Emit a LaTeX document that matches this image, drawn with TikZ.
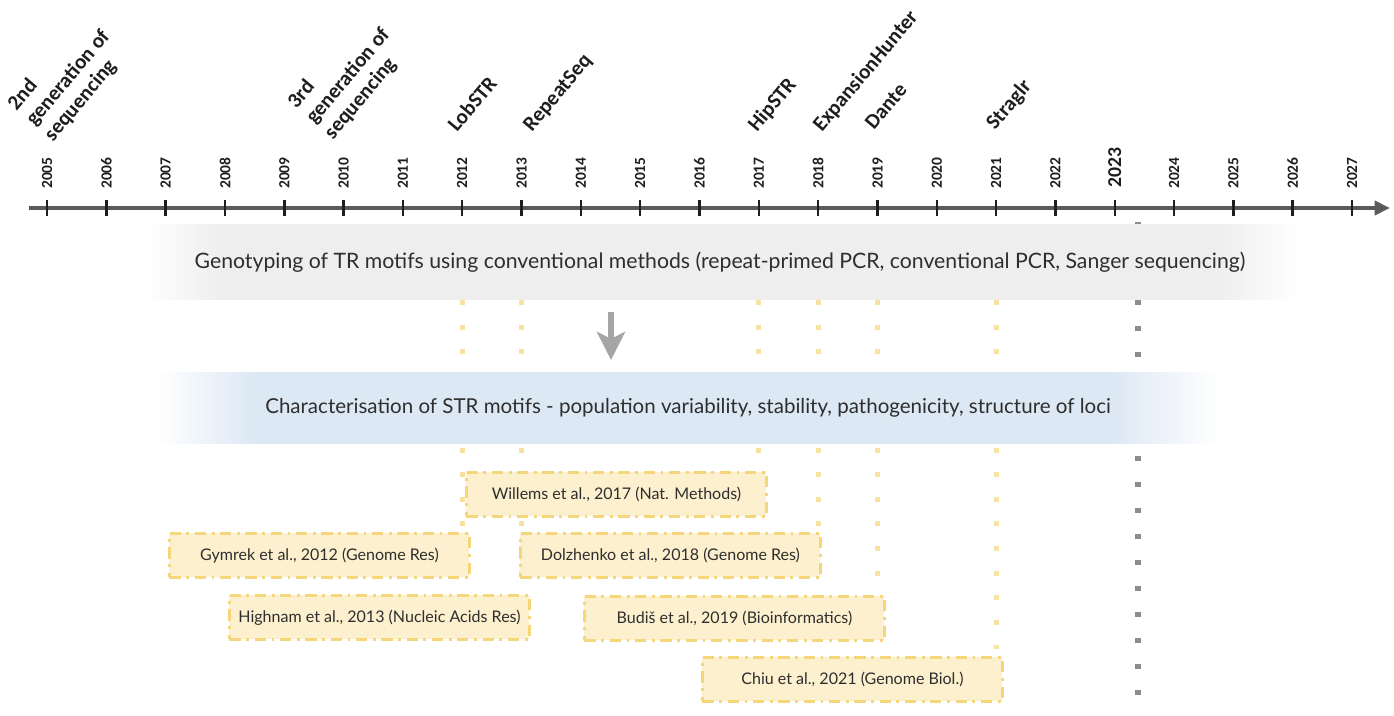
\documentclass[tikz,border=0pt]{standalone}
\usepackage{fontspec}
\usetikzlibrary{arrows.meta}
\newfontfamily\labelfont{Carlito}
\newfontfamily\bandfont{Lato}

\definecolor{axisgray}{HTML}{5A5A5A}
\definecolor{tickblack}{HTML}{1E1E1E}
\definecolor{textdark}{HTML}{2E2E2E}
\definecolor{bandgray}{HTML}{EEEEEE}
\definecolor{bandblue}{HTML}{DDE8F5}
\definecolor{boxfill}{HTML}{FDF0CE}
\definecolor{boxline}{HTML}{F5D67A}
\definecolor{tooldot}{HTML}{F7E2A0}
\definecolor{endgray}{HTML}{8C8C8C}
\definecolor{arrowgray}{HTML}{A5A5A5}

% shadings are shown between 25bp and 75bp
\pgfdeclarehorizontalshading{grayband}{100bp}{color(0bp)=(white); color(25bp)=(white); color(28.5bp)=(bandgray); color(71.5bp)=(bandgray); color(75bp)=(white); color(100bp)=(white)}
\pgfdeclarehorizontalshading{blueband}{100bp}{color(0bp)=(white); color(25bp)=(white); color(29.5bp)=(bandblue); color(70bp)=(bandblue); color(75bp)=(white); color(100bp)=(white)}

\tikzset{
  yearlabel/.style={rotate=90, anchor=west, inner sep=0pt, text=tickblack,
    font=\labelfont\bfseries\fontsize{11}{13}\selectfont},
  toollabel/.style={rotate=50, inner sep=0pt, text=tickblack,
    font=\labelfont\bfseries\fontsize{15}{17}\selectfont},
  tickmark/.style={draw=tickblack, line width=1.8pt},
  band/.style={shade, inner sep=0pt, text=textdark,
    font=\bandfont\fontsize{15.1}{18}\selectfont},
  paperbox/.style={draw=boxline, fill=boxfill, line width=2pt,
    dash pattern=on 8pt off 4pt on 2pt off 4pt, anchor=north west,
    minimum width=7.5cm, minimum height=1.1cm, inner sep=0pt, text=textdark,
    font=\bandfont\fontsize{11.4}{13}\selectfont},
  tooldots/.style={draw=tooldot, line width=3.5pt, dash pattern=on 3.5pt off 14pt},
  enddots/.style={draw=endgray, line width=3.6pt, dash pattern=on 3.6pt off 14.9pt},
}

\begin{document}
\begin{tikzpicture}[x=0.025cm, y=-0.025cm]
  \useasboundingbox (0,0) rectangle (1394,716);
  %%% years on the axis
  \path (47.0,208) coordinate (t2005);
  \path (106.3,208) coordinate (t2006);
  \path (165.6,208) coordinate (t2007);
  \path (225.0,208) coordinate (t2008);
  \path (284.3,208) coordinate (t2009);
  \path (343.6,208) coordinate (t2010);
  \path (402.9,208) coordinate (t2011);
  \path (462.2,208) coordinate (t2012);
  \path (521.6,208) coordinate (t2013);
  \path (580.9,208) coordinate (t2014);
  \path (640.2,208) coordinate (t2015);
  \path (699.5,208) coordinate (t2016);
  \path (758.8,208) coordinate (t2017);
  \path (818.2,208) coordinate (t2018);
  \path (877.5,208) coordinate (t2019);
  \path (936.8,208) coordinate (t2020);
  \path (996.1,208) coordinate (t2021);
  \path (1055.4,208) coordinate (t2022);
  \path (1114.8,208) coordinate (t2023);
  \path (1174.1,208) coordinate (t2024);
  \path (1233.4,208) coordinate (t2025);
  \path (1292.7,208) coordinate (t2026);
  \path (1352.0,208) coordinate (t2027);
  %%%
  \path (29,208) coordinate (axstart);
  \path (1390,208) coordinate (axend);
  \path (1138,222) coordinate (nowtop);
  \path (1138,716) coordinate (nowbot);
  \path (611,312) coordinate (arrtop);
  \path (611,360) coordinate (arrbot);

  %%% Axis:
  \draw[axisgray, line width=2.8pt, -{Triangle[length=11pt, width=10pt]}] (axstart) -- (axend);
  \draw[tickmark] (t2005) ++(0,-8) -- ++(0,16); \draw[tickmark] (t2006) ++(0,-8) -- ++(0,16);
  \draw[tickmark] (t2007) ++(0,-8) -- ++(0,16); \draw[tickmark] (t2008) ++(0,-8) -- ++(0,16);
  \draw[tickmark] (t2009) ++(0,-8) -- ++(0,16); \draw[tickmark] (t2010) ++(0,-8) -- ++(0,16);
  \draw[tickmark] (t2011) ++(0,-8) -- ++(0,16); \draw[tickmark] (t2012) ++(0,-8) -- ++(0,16);
  \draw[tickmark] (t2013) ++(0,-8) -- ++(0,16); \draw[tickmark] (t2014) ++(0,-8) -- ++(0,16);
  \draw[tickmark] (t2015) ++(0,-8) -- ++(0,16); \draw[tickmark] (t2016) ++(0,-8) -- ++(0,16);
  \draw[tickmark] (t2017) ++(0,-8) -- ++(0,16); \draw[tickmark] (t2018) ++(0,-8) -- ++(0,16);
  \draw[tickmark] (t2019) ++(0,-8) -- ++(0,16); \draw[tickmark] (t2020) ++(0,-8) -- ++(0,16);
  \draw[tickmark] (t2021) ++(0,-8) -- ++(0,16); \draw[tickmark] (t2022) ++(0,-8) -- ++(0,16);
  \draw[tickmark] (t2023) ++(0,-8) -- ++(0,16); \draw[tickmark] (t2024) ++(0,-8) -- ++(0,16);
  \draw[tickmark] (t2025) ++(0,-8) -- ++(0,16); \draw[tickmark] (t2026) ++(0,-8) -- ++(0,16);
  \draw[tickmark] (t2027) ++(0,-8) -- ++(0,16);

  %%% year labels
  \node[yearlabel] (l2005) at ([yshift=13.5pt] t2005) {2005};
  \node[yearlabel] (l2006) at ([yshift=13.5pt] t2006) {2006};
  \node[yearlabel] (l2007) at ([yshift=13.5pt] t2007) {2007};
  \node[yearlabel] (l2008) at ([yshift=13.5pt] t2008) {2008};
  \node[yearlabel] (l2009) at ([yshift=13.5pt] t2009) {2009};
  \node[yearlabel] (l2010) at ([yshift=13.5pt] t2010) {2010};
  \node[yearlabel] (l2011) at ([yshift=13.5pt] t2011) {2011};
  \node[yearlabel] (l2012) at ([yshift=13.5pt] t2012) {2012};
  \node[yearlabel] (l2013) at ([yshift=13.5pt] t2013) {2013};
  \node[yearlabel] (l2014) at ([yshift=13.5pt] t2014) {2014};
  \node[yearlabel] (l2015) at ([yshift=13.5pt] t2015) {2015};
  \node[yearlabel] (l2016) at ([yshift=13.5pt] t2016) {2016};
  \node[yearlabel] (l2017) at ([yshift=13.5pt] t2017) {2017};
  \node[yearlabel] (l2018) at ([yshift=13.5pt] t2018) {2018};
  \node[yearlabel] (l2019) at ([yshift=13.5pt] t2019) {2019};
  \node[yearlabel] (l2020) at ([yshift=13.5pt] t2020) {2020};
  \node[yearlabel] (l2021) at ([yshift=13.5pt] t2021) {2021};
  \node[yearlabel] (l2022) at ([yshift=13.5pt] t2022) {2022};
  \node[yearlabel, font=\labelfont\bfseries\fontsize{14}{16}\selectfont] (l2023) at ([yshift=14.5pt] t2023) {2023};
  \node[yearlabel] (l2024) at ([yshift=13.5pt] t2024) {2024};
  \node[yearlabel] (l2025) at ([yshift=13.5pt] t2025) {2025};
  \node[yearlabel] (l2026) at ([yshift=13.5pt] t2026) {2026};
  \node[yearlabel] (l2027) at ([yshift=13.5pt] t2027) {2027};

  %%% tools and sequencing generations
  \node[toollabel, anchor=south west, align=left] (gen2) at (56,145) {2nd\\generation of\\sequencing};
  \node[toollabel, anchor=south west, align=left] (gen3) at (336,143) {3rd\\generation of\\sequencing};
  \node[toollabel, anchor=base west] (lobstr) at (457,133) {LobSTR};
  \node[toollabel, anchor=base west] (repeatseq) at (532,133) {RepeatSeq};
  \node[toollabel, anchor=base west] (hipstr) at (757,133) {HipSTR};
  \node[toollabel, anchor=base west] (exphunter) at (822,133) {ExpansionHunter};
  \node[toollabel, anchor=base west] (dante) at (874,131) {Dante};
  \node[toollabel, anchor=base west] (straglr) at (995,131) {Straglr};

  %%% dotted guides (behind the bands)
  \draw[enddots] (nowtop) -- (nowbot);
  \path (t2012 |- 0,300) coordinate (g2012);
  \path (t2013 |- 0,300) coordinate (g2013);
  \path (t2017 |- 0,300) coordinate (g2017);
  \path (t2018 |- 0,300) coordinate (g2018);
  \path (t2019 |- 0,300) coordinate (g2019);
  \path (t2021 |- 0,300) coordinate (g2021);
  \path (t2012 |- 0,532) coordinate (e2012);
  \path (t2013 |- 0,594) coordinate (e2013);
  \path (t2017 |- 0,471) coordinate (e2017);
  \path (t2018 |- 0,532) coordinate (e2018);
  \path (t2019 |- 0,595) coordinate (e2019);
  \path (t2021 |- 0,656) coordinate (e2021);
  \draw[tooldots] (g2012) -- (e2012);
  \draw[tooldots] (g2013) -- (e2013);
  \draw[tooldots] (g2017) -- (e2017);
  \draw[tooldots] (g2018) -- (e2018);
  \draw[tooldots] (g2019) -- (e2019);
  \draw[tooldots] (g2021) -- (e2021);

  %%% bands
  \node[band, shading=grayband, minimum width=28.83cm, minimum height=1.875cm] (gband) at (720,262)
    {Genotyping of TR motifs using conventional methods (repeat-primed PCR, conventional PCR, Sanger sequencing)};
  \node[band, shading=blueband, minimum width=26.5cm, minimum height=1.75cm,
    font=\bandfont\fontsize{14.6}{18}\selectfont] (cband) at (688,408)
    {Characterisation of STR motifs - population variability, stability, pathogenicity, structure of loci};
  \draw[arrowgray, line width=4.3pt, -{Stealth[length=20pt, width=20pt, inset=5pt]}] (arrtop) -- (arrbot);

  %%% papers
  \node[paperbox] (willems) at (465,471) {Willems et al., 2017 (Nat. Methods)};
  \node[paperbox] (gymrek) at (168,532) {Gymrek et al., 2012 (Genome Res)};
  \node[paperbox] (dolzhenko) at (519,532) {Dolzhenko et al., 2018 (Genome Res)};
  \node[paperbox] (highnam) at (228,594) {Highnam et al., 2013 (Nucleic Acids Res)};
  \node[paperbox] (budis) at (583,595) {Budiš et al., 2019 (Bioinformatics)};
  \node[paperbox] (chiu) at (701,656) {Chiu et al., 2021 (Genome Biol.)};
\end{tikzpicture}
\end{document}
